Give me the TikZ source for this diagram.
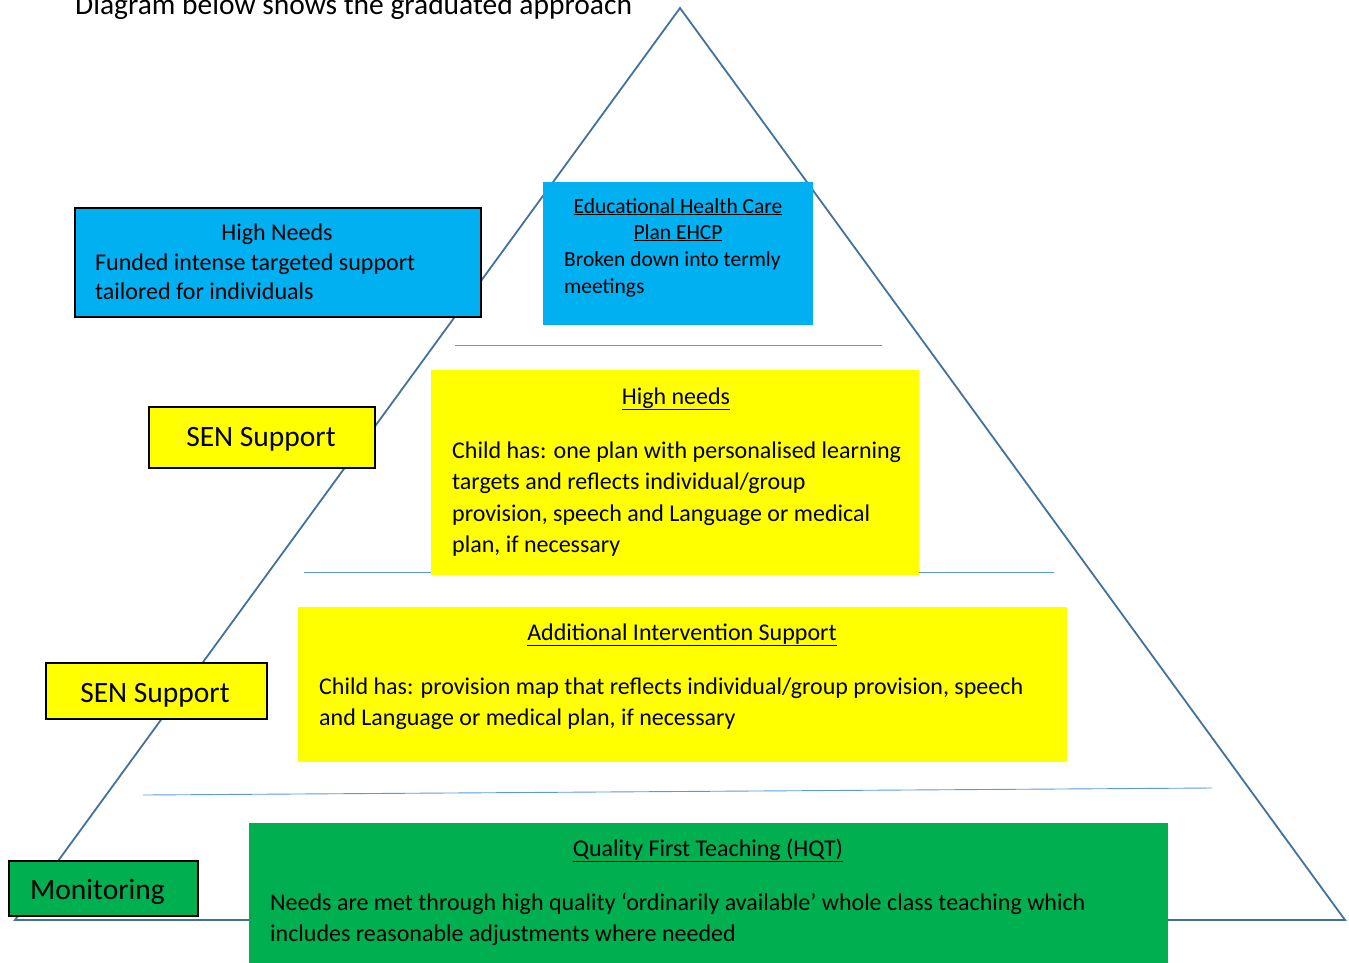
\documentclass[tikz,border=0pt]{standalone}
\usepackage{fontspec}
\setmainfont{Carlito}
\definecolor{cblue}{HTML}{00B0F0}
\definecolor{cyellow}{HTML}{FFFF00}
\definecolor{cgreen}{HTML}{00B050}
\definecolor{tri}{HTML}{41719C}
\definecolor{sep}{HTML}{5B9BD5}
\tikzset{
  boxbase/.style={draw=none, inner sep=0, anchor=north west, rectangle},
  framed/.style={boxbase, draw=black, line width=1.5pt},
  txt/.style={inner sep=0, anchor=base west, font=\fontsize{24}{30}\selectfont},
  ctxt/.style={txt, anchor=base},
  ehtxt/.style={font=\fontsize{21.5}{26}\selectfont},
  hntxt/.style={font=\fontsize{24}{29}\selectfont},
  bigtxt/.style={font=\fontsize{29.5}{32}\selectfont},
  sepline/.style={draw=sep, line width=0.9pt},
}
\begin{document}
\begin{tikzpicture}[x=1pt,y=-1pt]
\useasboundingbox (0,0) rectangle (1349,962);
% triangle
\coordinate (apex) at (680,8);
\coordinate (bl) at (15,920);
\coordinate (br) at (1345,920);
\draw[tri, line width=1.8pt, line join=miter] (apex) -- (br) -- (bl) -- cycle;
% separator lines
\coordinate (s1a) at (455,345); \coordinate (s1b) at (882,345);
\coordinate (s2a) at (304,572); \coordinate (s2b) at (1054,572);
\coordinate (s3a) at (143,795); \coordinate (s3b) at (1212,788);
\draw[sepline] (s1a) -- (s1b);
\draw[sepline] (s2a) -- (s2b);
\draw[sepline] (s3a) -- (s3b);
% title
\node[txt, bigtxt] (title) at (75,14) {Diagram below shows the graduated approach};
% EHCP box
\node[boxbase, fill=cblue, minimum width=270pt, minimum height=143pt] (ehcp) at (543,182) {};
\node[ctxt, ehtxt] (ehcp1) at (678,213) {\underline{Educational Health Care}};
\node[ctxt, ehtxt] (ehcp2) at (678,239) {\underline{Plan EHCP}};
\node[txt, ehtxt] (ehcp3) at (564,266) {Broken down into termly};
\node[txt, ehtxt] (ehcp4) at (564,293) {meetings};
% High Needs left
\node[framed, fill=cblue, minimum width=406pt, minimum height=109pt] (hn) at (74,207) {};
\node[ctxt, hntxt] (hn1) at (277,240) {High Needs};
\node[txt, hntxt] (hn2) at (95,270) {Funded intense targeted support};
\node[txt, hntxt] (hn3) at (95,299) {tailored for individuals};
% SEN support 1
\node[framed, fill=cyellow, minimum width=226pt, minimum height=61pt] (sen1) at (148,406) {};
\node[ctxt, bigtxt] (sen1t) at (261,446) {SEN Support};
% yellow 1
\node[boxbase, fill=cyellow, minimum width=488pt, minimum height=205pt] (y1) at (431,370) {};
\node[ctxt] (y1h) at (676,404) {\underline{High needs}};
\node[txt] (y1a) at (452,458) {Child has: one plan with personalised learning};
\node[txt] (y1b) at (452,489) {targets and reflects individual/group};
\node[txt] (y1c) at (452,521) {provision, speech and Language or medical};
\node[txt] (y1d) at (452,552) {plan, if necessary};
% yellow 2
\node[boxbase, fill=cyellow, minimum width=769pt, minimum height=155pt] (y2) at (298,607) {};
\node[ctxt] (y2h) at (682,640) {\underline{Additional Intervention Support}};
\node[txt] (y2a) at (319,694) {Child has: provision map that reflects individual/group provision, speech};
\node[txt] (y2b) at (319,725) {and Language or medical plan, if necessary};
% SEN support 2
\node[framed, fill=cyellow, minimum width=221pt, minimum height=56pt] (sen2) at (45,662) {};
\node[ctxt, bigtxt] (sen2t) at (155,702) {SEN Support};
% green
\node[boxbase, fill=cgreen, minimum width=919pt, minimum height=145pt] (g) at (249,823) {};
\node[ctxt] (gh) at (708,856) {\underline{Quality First Teaching (HQT)}};
\node[txt] (ga) at (270,910) {Needs are met through high quality ‘ordinarily available’ whole class teaching which};
\node[txt] (gb) at (270,941) {includes reasonable adjustments where needed};
% monitoring
\node[framed, fill=cgreen, minimum width=189pt, minimum height=55pt] (mon) at (8,860) {};
\node[txt, bigtxt] (mont) at (30,899) {Monitoring};
\end{tikzpicture}
\end{document}
